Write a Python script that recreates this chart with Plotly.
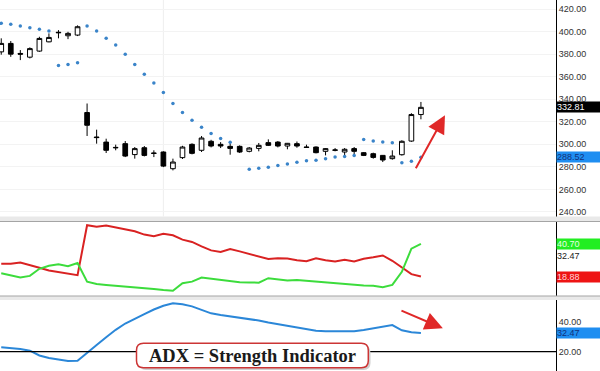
import plotly.graph_objects as go

# ---------------- data ----------------
idx = list(range(45))

opens = [382.0, 389.5, 380.6, 377.3, 382.7, 390.9, 399.4, 396.3, 396.9, 328.2,
         306.5, 302.0, 297.3, 300.6, 290.9, 297.0, 292.3, 293.2, 278.4, 288.2,
         300.0, 294.7, 302.7, 300.0, 298.2, 298.2, 293.8, 296.4, 301.5, 302.0,
         298.5, 300.6, 297.6, 297.6, 293.8, 294.7, 293.2, 296.2, 292.6, 291.7,
         290.2, 287.3, 290.8, 302.9, 326.4]
highs = [394.0, 391.6, 383.6, 386.0, 395.4, 398.4, 401.3, 399.8, 405.5, 336.2,
         313.0, 305.0, 299.7, 302.9, 297.6, 298.5, 294.7, 293.8, 287.3, 298.7,
         300.9, 307.4, 304.0, 302.0, 300.9, 299.1, 297.6, 301.2, 304.4, 302.9,
         301.2, 302.5, 299.7, 298.2, 296.7, 296.7, 296.7, 297.6, 293.2, 292.6,
         290.5, 294.7, 303.6, 327.6, 337.6]
lows = [379.5, 377.6, 374.7, 376.2, 382.0, 390.5, 394.0, 393.3, 396.0, 307.4,
        300.6, 292.3, 294.7, 288.7, 287.3, 289.3, 288.7, 279.8, 276.9, 287.0,
        291.1, 293.2, 297.3, 296.7, 290.8, 292.3, 292.9, 293.8, 298.5, 297.3,
        295.6, 297.0, 297.0, 292.0, 290.2, 293.8, 289.6, 290.8, 289.6, 287.3,
        284.3, 286.4, 290.0, 302.2, 322.2]
closes = [389.5, 380.0, 380.0, 384.9, 393.9, 394.8, 399.0, 398.4, 404.3, 316.9,
          306.0, 294.7, 297.0, 289.6, 296.2, 290.2, 292.0, 280.7, 284.3, 297.6,
          292.0, 305.6, 298.5, 298.5, 296.4, 293.2, 296.7, 299.1, 299.1, 298.5,
          300.9, 298.5, 297.3, 292.6, 296.2, 295.0, 295.6, 293.8, 290.2, 288.4,
          286.1, 289.6, 302.7, 326.4, 332.81]

sar = [407.3, 406.4, 404.9, 403.4, 402.0, 400.4, 370.0, 370.8, 372.3, 404.9,
       400.4, 394.0, 388.0, 380.0, 370.8, 362.2, 354.5, 346.0, 336.2, 328.2,
       321.3, 315.1, 309.5, 305.1, 301.8, None, 278.0, 278.7, 279.6, 281.2,
       282.5, 284.2, 285.5, 285.8, 287.3, 288.7, 289.3, 290.0, 304.2, 302.9,
       302.0, 301.5, 283.7, 284.9, 288.52]

di_plus = [21.04, 19.55, 18.21, 19.35, 24.07, 26.09, 27.10, 25.75, 27.91, 15.51,
           13.97, 13.29, 12.82, 12.28, 11.74, 11.14, 10.60, 9.93, 9.45, 14.44,
           15.51, 18.21, 17.33, 16.66, 15.99, 15.11, 14.98, 14.84, 17.80, 17.13,
           16.32, 16.52, 15.99, 15.51, 14.98, 14.44, 13.76, 13.29, 12.96, 12.82,
           11.74, 13.29, 22.05, 37.53, 40.70]

di_minus = [27.43, 27.43, 28.31, 26.29, 24.74, 22.92, 21.84, 20.70, 19.82, 53.23,
            52.15, 53.02, 51.88, 50.80, 49.18, 46.96, 45.82, 47.43, 46.49, 43.60,
            42.05, 39.08, 36.39, 35.31, 37.33, 35.72, 33.97, 31.95, 30.60, 31.14,
            31.00, 29.79, 29.12, 31.14, 29.79, 28.98, 30.13, 28.98, 30.80, 31.81,
            33.02, 29.45, 25.08, 20.50, 18.88]

adx = [22.93, 22.47, 21.80, 20.67, 17.47, 15.80, 14.67, 13.80, 14.00, 18.93,
       24.47, 29.67, 34.60, 38.80, 42.13, 45.13, 48.13, 50.67, 52.27, 51.67,
       50.27, 47.93, 45.60, 44.47, 43.60, 42.80, 41.80, 40.80, 39.47, 38.33,
       37.13, 35.80, 34.80, 34.00, 33.60, 33.47, 33.40, 33.60, 34.47, 35.60,
       36.67, 37.80, 34.27, 32.93, 32.47]

price_ticks = [240, 260, 280, 300, 320, 340, 360, 380, 400, 420]
adx_ticks = [20, 40]
adx_level = 20
note_text = "ADX = Strength Indicator"

# ---------------- layout helpers ----------------
W, H = 600, 371
PR = 556  # right edge of plot area in px


def pxx(px):
    return px / PR


def pxy(py):
    return 1 - py / H


def rounded_rect(x0, y0, x1, y1, r):
    rx, ry = r / PR, r / H
    X0, X1 = pxx(x0), pxx(x1)
    Y0, Y1 = pxy(y0), pxy(y1)  # Y0 top, Y1 bottom
    return (f"M {X0+rx},{Y0} L {X1-rx},{Y0} Q {X1},{Y0} {X1},{Y0-ry} "
            f"L {X1},{Y1+ry} Q {X1},{Y1} {X1-rx},{Y1} L {X0+rx},{Y1} "
            f"Q {X0},{Y1} {X0},{Y1+ry} L {X0},{Y0-ry} Q {X0},{Y0} {X0+rx},{Y0} Z")


fig = go.Figure()

fig.add_trace(go.Candlestick(
    x=idx, open=opens, high=highs, low=lows, close=closes,
    increasing=dict(line=dict(color='black', width=1), fillcolor='white'),
    decreasing=dict(line=dict(color='black', width=1), fillcolor='black'),
    whiskerwidth=0, xaxis='x', yaxis='y', showlegend=False, hoverinfo='skip'))

fig.add_trace(go.Scatter(x=idx, y=sar, mode='markers',
                         marker=dict(size=3.5, color='#3a84c9'),
                         xaxis='x', yaxis='y', showlegend=False))

fig.add_trace(go.Scatter(x=idx, y=di_minus, mode='lines',
                         line=dict(color='#d92222', width=2),
                         xaxis='x2', yaxis='y2', showlegend=False))
fig.add_trace(go.Scatter(x=idx, y=di_plus, mode='lines',
                         line=dict(color='#3cdc3c', width=2),
                         xaxis='x2', yaxis='y2', showlegend=False))
fig.add_trace(go.Scatter(x=idx, y=adx, mode='lines',
                         line=dict(color='#2b87d8', width=2),
                         xaxis='x3', yaxis='y3', showlegend=False))

xr = [-0.13, 58.16]
tickfont = dict(family='Liberation Sans, Arial, sans-serif', size=9, color='#333333')

axis_common = dict(side='right', showline=True, linecolor='black', linewidth=1,
                   ticks='', zeroline=False, tickfont=tickfont, fixedrange=True)

fig.update_layout(
    width=W, height=H,
    margin=dict(l=0, r=W - PR, t=0, b=0),
    paper_bgcolor='white', plot_bgcolor='white',
    showlegend=False,
    xaxis=dict(domain=[0, 1], range=xr, visible=False, anchor='y',
               rangeslider=dict(visible=False)),
    xaxis2=dict(domain=[0, 1], range=xr, visible=False, anchor='y2', matches='x'),
    xaxis3=dict(domain=[0, 1], range=xr, visible=False, anchor='y3', matches='x'),
    yaxis=dict(domain=[pxy(216.5), 1], range=[236, 428], tickvals=price_ticks,
               tickformat='.2f', showgrid=True, gridcolor='#f3f3f3', anchor='x',
               **axis_common),
    yaxis2=dict(domain=[pxy(296), pxy(221.5)], range=[5.9, 55.7],
                showticklabels=False, showgrid=False, anchor='x2', **axis_common),
    yaxis3=dict(domain=[0, pxy(300)], range=[7.1, 54.5], tickvals=adx_ticks,
                tickformat='.2f', showgrid=False, anchor='x3', **axis_common),
)

shapes = []
# faint vertical grid line
shapes.append(dict(type='line', xref='x', yref='paper', x0=17, x1=17,
                   y0=pxy(216.5), y1=1, line=dict(color='#eeeeee', width=1), layer='below'))
# panel separators
for top, bot, ln in [(216.5, 221.5, 221.5), (296, 300, 296)]:
    shapes.append(dict(type='rect', xref='paper', yref='paper', x0=0, x1=W / PR,
                       y0=pxy(bot), y1=pxy(top), fillcolor='#e9e9e9', line=dict(width=0)))
    shapes.append(dict(type='line', xref='paper', yref='paper', x0=0, x1=W / PR,
                       y0=pxy(ln), y1=pxy(ln), line=dict(color='#a5a5a5', width=1)))
# ADX 20 level line
shapes.append(dict(type='line', xref='paper', yref='y3', x0=0, x1=1,
                   y0=adx_level, y1=adx_level, line=dict(color='black', width=1.2)))
# note box shadow + box
shapes.append(dict(type='path', xref='paper', yref='paper',
                   path=rounded_rect(139, 345.5, 370.5, 370, 7), fillcolor='#d0d0d0',
                   line=dict(width=0)))
shapes.append(dict(type='path', xref='paper', yref='paper',
                   path=rounded_rect(136.5, 343.3, 368.3, 367.7, 7), fillcolor='white',
                   line=dict(color='#cc3535', width=1.5)))
fig.update_layout(shapes=shapes)

lab_font = dict(family='Liberation Sans, Arial, sans-serif', size=9)


def value_label(y, yref, text, bg, fg):
    return dict(x=1, xref='paper', y=y, yref=yref, xanchor='left', yanchor='middle',
                text=text, showarrow=False, bgcolor=bg, width=W - PR, height=10,
                align='left', borderpad=0, font=dict(color=fg, **lab_font))


annotations = [
    value_label(closes[-1], 'y', f"{closes[-1]:.2f}", 'black', 'white'),
    value_label(sar[-1], 'y', f"{sar[-1]:.2f}", '#1f8ef1', '#12307a'),
    value_label(di_plus[-1], 'y2', f"{di_plus[-1]:.2f}", '#22ee22', '#e6ffe6'),
    value_label(adx[-1], 'y2', f"{adx[-1]:.2f}", 'rgba(0,0,0,0)', '#222222'),
    value_label(di_minus[-1], 'y2', f"{di_minus[-1]:.2f}", '#ee1414', '#ffd6d6'),
    value_label(adx[-1], 'y3', f"{adx[-1]:.2f}", '#1f8ef1', '#12307a'),
    # arrows
    dict(x=46.52, y=325.8, ax=43.38, ay=277.5, xref='x', yref='y', axref='x', ayref='y',
         showarrow=True, arrowhead=2, arrowsize=1.8, arrowwidth=2, arrowcolor='#e02828',
         text=''),
    dict(x=46.3, y=35.6, ax=41.8, ay=47.8, xref='x3', yref='y3', axref='x3', ayref='y3',
         showarrow=True, arrowhead=2, arrowsize=1.8, arrowwidth=2, arrowcolor='#e02828',
         text=''),
    dict(x=pxx(252.5), y=pxy(355.5), xref='paper', yref='paper', text=f"<b>{note_text}</b>",
         xanchor='center', yanchor='middle', showarrow=False,
         font=dict(family='Liberation Serif, DejaVu Serif, serif', size=18.5, color='#1a1a1a')),
]
fig.update_layout(annotations=annotations)

fig.write_html("out.html", config={'displayModeBar': False},
               post_script="document.body.style.margin='0px';document.body.style.overflow='hidden';")
